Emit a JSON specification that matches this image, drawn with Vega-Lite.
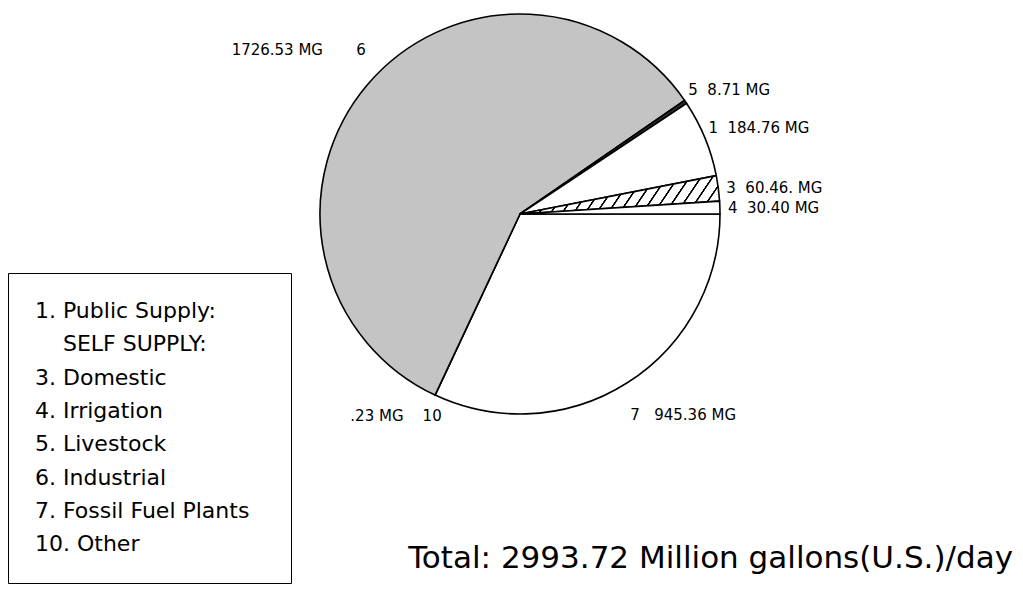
{
  "$schema": "https://vega.github.io/schema/vega-lite/v6.json",
  "width": 400,
  "height": 400,
  "autosize": {"type": "none"},
  "padding": {"left": 320, "top": 14, "right": 303, "bottom": 181},
  "background": "white",
  "config": {"view": {"stroke": null}},
  "title": {
    "text": "Total: 2993.72 Million gallons(U.S.)/day",
    "orient": "top",
    "anchor": "end",
    "frame": "group",
    "offset": 0,
    "dx": 293,
    "dy": 586,
    "baseline": "alphabetic",
    "font": "DejaVu Sans",
    "fontSize": 31,
    "fontWeight": "normal",
    "color": "black"
  },
  "data": {
    "values": [
      {"num": 7, "entry": "7. Fossil Fuel Plants", "mg": 945.36, "mgtext": "945.36"},
      {"num": 10, "entry": "10. Other", "mg": 0.23, "mgtext": ".23"},
      {"num": 6, "entry": "6. Industrial", "mg": 1726.53, "mgtext": "1726.53"},
      {"num": 5, "entry": "5. Livestock", "mg": 8.71, "mgtext": "8.71"},
      {"num": 1, "entry": "1. Public Supply:", "mg": 184.76, "mgtext": "184.76"},
      {"num": 3, "entry": "3. Domestic", "mg": 60.46, "mgtext": "60.46."},
      {"num": 4, "entry": "4. Irrigation", "mg": 30.40, "mgtext": "30.40"}
    ]
  },
  "transform": [
    {"window": [{"op": "row_number", "as": "rn"}]},
    {"calculate": "datum.num + (datum.num == 7 ? '\u00a0\u00a0\u00a0' : '\u00a0\u00a0') + datum.mgtext + ' MG'", "as": "rlab"},
    {"calculate": "datum.mgtext + ' MG' + (datum.num == 6 ? '\u00a0\u00a0\u00a0\u00a0\u00a0\u00a0\u00a0' : '\u00a0\u00a0\u00a0\u00a0') + datum.num", "as": "llab"}
  ],
  "encoding": {
    "theta": {"field": "mg", "type": "quantitative", "stack": true, "scale": {"range": [1.5707963, 7.8539816]}},
    "order": {"field": "rn", "type": "quantitative"}
  },
  "layer": [
    {
      "mark": {"type": "arc", "stroke": "black", "strokeWidth": 1.6, "strokeJoin": "round"},
      "encoding": {
        "fill": {
          "condition": {
            "test": "datum.num == 3",
            "value": {
              "gradient": "linear", "x1": 0, "y1": 0, "x2": 1.13, "y2": 0.147,
              "stops": [
                {"offset": 0, "color": "#fff"}, {"offset": 0.039, "color": "#fff"}, {"offset": 0.041, "color": "#000"}, {"offset": 0.047, "color": "#000"},
                {"offset": 0.05, "color": "#fff"}, {"offset": 0.089, "color": "#fff"}, {"offset": 0.091, "color": "#000"}, {"offset": 0.097, "color": "#000"},
                {"offset": 0.1, "color": "#fff"}, {"offset": 0.139, "color": "#fff"}, {"offset": 0.141, "color": "#000"}, {"offset": 0.147, "color": "#000"},
                {"offset": 0.15, "color": "#fff"}, {"offset": 0.189, "color": "#fff"}, {"offset": 0.191, "color": "#000"}, {"offset": 0.197, "color": "#000"},
                {"offset": 0.2, "color": "#fff"}, {"offset": 0.239, "color": "#fff"}, {"offset": 0.241, "color": "#000"}, {"offset": 0.247, "color": "#000"},
                {"offset": 0.25, "color": "#fff"}, {"offset": 0.289, "color": "#fff"}, {"offset": 0.291, "color": "#000"}, {"offset": 0.297, "color": "#000"},
                {"offset": 0.3, "color": "#fff"}, {"offset": 0.339, "color": "#fff"}, {"offset": 0.341, "color": "#000"}, {"offset": 0.347, "color": "#000"},
                {"offset": 0.35, "color": "#fff"}, {"offset": 0.389, "color": "#fff"}, {"offset": 0.391, "color": "#000"}, {"offset": 0.397, "color": "#000"},
                {"offset": 0.4, "color": "#fff"}, {"offset": 0.439, "color": "#fff"}, {"offset": 0.441, "color": "#000"}, {"offset": 0.447, "color": "#000"},
                {"offset": 0.45, "color": "#fff"}, {"offset": 0.489, "color": "#fff"}, {"offset": 0.491, "color": "#000"}, {"offset": 0.497, "color": "#000"},
                {"offset": 0.5, "color": "#fff"}, {"offset": 0.539, "color": "#fff"}, {"offset": 0.541, "color": "#000"}, {"offset": 0.547, "color": "#000"},
                {"offset": 0.55, "color": "#fff"}, {"offset": 0.589, "color": "#fff"}, {"offset": 0.591, "color": "#000"}, {"offset": 0.597, "color": "#000"},
                {"offset": 0.6, "color": "#fff"}, {"offset": 0.639, "color": "#fff"}, {"offset": 0.641, "color": "#000"}, {"offset": 0.647, "color": "#000"},
                {"offset": 0.65, "color": "#fff"}, {"offset": 0.689, "color": "#fff"}, {"offset": 0.691, "color": "#000"}, {"offset": 0.697, "color": "#000"},
                {"offset": 0.7, "color": "#fff"}, {"offset": 0.739, "color": "#fff"}, {"offset": 0.741, "color": "#000"}, {"offset": 0.747, "color": "#000"},
                {"offset": 0.75, "color": "#fff"}, {"offset": 0.789, "color": "#fff"}, {"offset": 0.791, "color": "#000"}, {"offset": 0.797, "color": "#000"},
                {"offset": 0.8, "color": "#fff"}, {"offset": 0.839, "color": "#fff"}, {"offset": 0.841, "color": "#000"}, {"offset": 0.847, "color": "#000"},
                {"offset": 0.85, "color": "#fff"}, {"offset": 0.889, "color": "#fff"}, {"offset": 0.891, "color": "#000"}, {"offset": 0.897, "color": "#000"},
                {"offset": 0.9, "color": "#fff"}, {"offset": 0.939, "color": "#fff"}, {"offset": 0.941, "color": "#000"}, {"offset": 0.947, "color": "#000"},
                {"offset": 0.95, "color": "#fff"}, {"offset": 0.989, "color": "#fff"}, {"offset": 0.991, "color": "#000"}, {"offset": 0.997, "color": "#000"},
                {"offset": 0.999, "color": "#fff"}, {"offset": 1, "color": "#fff"}
              ]
            }
          },
          "field": "entry",
          "type": "nominal",
          "scale": {
            "domain": ["1. Public Supply:", "\u200b\u00a0\u00a0\u00a0\u00a0SELF SUPPLY:", "3. Domestic", "4. Irrigation", "5. Livestock", "6. Industrial", "7. Fossil Fuel Plants", "10. Other"],
            "range": ["#ffffff", "#ffffff", "#ffffff", "#ffffff", "#2a2a2a", "#c4c4c4", "#ffffff", "#000000"]
          },
          "legend": {
            "title": null,
            "orient": "none",
            "legendX": -312,
            "legendY": 259,
            "direction": "vertical",
            "symbolSize": 0,
            "symbolOpacity": 0,
            "symbolStrokeWidth": 0,
            "labelOffset": -22,
            "labelExpr": "datum.label == '7. Fossil Fuel Plants' ? datum.label + '\u00a0\u00a0\u200b' : datum.label",
            "labelFont": "DejaVu Sans",
            "labelFontSize": 22,
            "labelColor": "black",
            "labelLimit": 400,
            "rowPadding": 11.3,
            "padding": 27,
            "strokeColor": "black",
            "fillColor": "white"
          }
        }
      }
    },
    {
      "mark": {"type": "text", "radius": 208, "dx": -4, "dy": -7, "align": "left", "baseline": "middle", "font": "DejaVu Sans", "fontSize": 15, "color": "black"},
      "encoding": {"text": {"condition": {"test": "datum.num != 5 && datum.num != 1", "value": ""}, "field": "rlab"}}
    },
    {
      "mark": {"type": "text", "radius": 208, "dy": 1, "align": "left", "baseline": "middle", "font": "DejaVu Sans", "fontSize": 15, "color": "black"},
      "encoding": {"text": {"condition": {"test": "datum.num != 3 && datum.num != 4", "value": ""}, "field": "rlab"}}
    },
    {
      "mark": {"type": "text", "radius": 215, "dx": -5, "dy": 20, "align": "left", "baseline": "middle", "font": "DejaVu Sans", "fontSize": 15, "color": "black"},
      "encoding": {"text": {"condition": {"test": "datum.num != 7", "value": ""}, "field": "rlab"}}
    },
    {
      "mark": {"type": "text", "radius": 215, "dx": 13, "dy": 7, "align": "right", "baseline": "middle", "font": "DejaVu Sans", "fontSize": 15, "color": "black"},
      "encoding": {"text": {"condition": {"test": "datum.num != 10", "value": ""}, "field": "llab"}}
    },
    {
      "mark": {"type": "text", "radius": 253, "dx": 39, "align": "right", "baseline": "middle", "font": "DejaVu Sans", "fontSize": 15, "color": "black"},
      "encoding": {"text": {"condition": {"test": "datum.num != 6", "value": ""}, "field": "llab"}}
    }
  ]
}
